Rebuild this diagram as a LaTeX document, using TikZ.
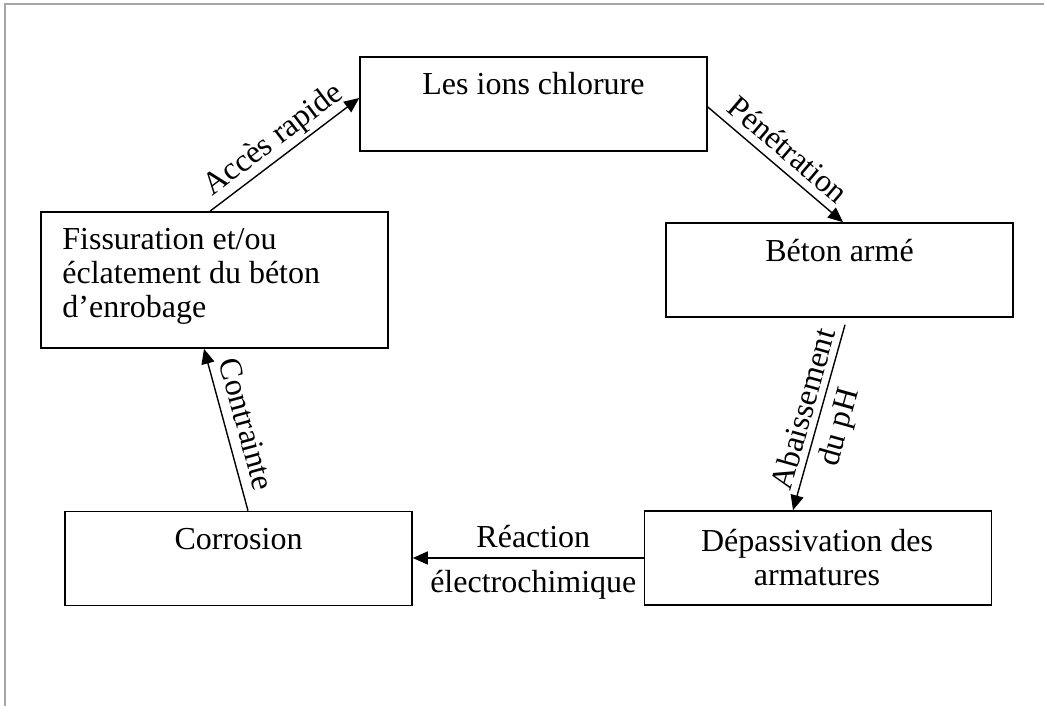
\documentclass[tikz,border=0pt]{standalone}
\usepackage{fontspec}
\setmainfont{Liberation Serif}
\usetikzlibrary{arrows.meta,calc}
\begin{document}
\begin{tikzpicture}[x=0.5pt,y=-0.5pt,
  box/.style={draw,line width=0.8pt,minimum width=173.5pt,minimum height=47pt,inner sep=0pt},
  txt/.style={font=\fontsize{16}{17}\selectfont,inner sep=0pt},
  conn/.style={line width=0.7pt,-{Triangle[length=7.5pt,width=6.5pt]}},
  lbl/.style={font=\fontsize{16}{17}\selectfont,inner xsep=0pt}
]
\useasboundingbox (0,0) rectangle (1044,706);
\draw[line width=1pt,color=black!35] (5,706) -- (5,4) -- (1044,4);

% boxes
\node[box,minimum height=47pt] (chl) at (533.5,104) {};
\node[box,minimum height=68pt] (fiss) at (214.5,280) {};
\node[box] (beton) at (839.5,270) {};
\node[box] (depa) at (818,558) {};
\node[box] (corr) at (238.5,558.5) {};

% box texts
\node[txt,anchor=base] (chlT) at (533.5,95) {Les ions chlorure};
\node[txt,anchor=base] (betonT) at (839.5,261) {Béton armé};
\node[txt,anchor=base] (corrT) at (238.5,549) {Corrosion};
\node[txt,anchor=north,align=center] (depaT) at (817,529) {Dépassivation des\\armatures};
\node[txt,anchor=north west,align=left] (fissT) at (62,228) {Fissuration et/ou\\éclatement du béton\\d’enrobage};

% connectors
\draw[conn] ([xshift=-2.25pt]fiss.north) -- node[lbl,sloped,above,inner ysep=1.2pt] (l1) {Accès rapide} ([yshift=3pt]chl.west);
\draw[conn] ([yshift=-1.5pt]chl.east) -- node[lbl,sloped,above,inner ysep=4pt] (l2) {Pénétration} ([xshift=1.75pt]beton.north);
\draw[conn] ([xshift=2.75pt,yshift=-3.5pt]beton.south) -- node[lbl,sloped,above,inner ysep=3pt,pos=0.48] (l3a) {Abaissement} node[lbl,sloped,below,inner ysep=4pt,pos=0.52] (l3b) {du pH} ([xshift=-12.5pt]depa.north);
\draw[conn] (depa.west) -- node[lbl,above,inner ysep=4.5pt,pos=0.478] (l4a) {Réaction} node[lbl,below,inner ysep=6pt,pos=0.478] (l4b) {électrochimique} (depa.west -| corr.east);
\draw[conn] ([xshift=4.75pt]corr.north) -- node[lbl,sloped,above,inner ysep=5pt] (l5) {Contrainte} ([xshift=-5.25pt]fiss.south);
\end{tikzpicture}
\end{document}
